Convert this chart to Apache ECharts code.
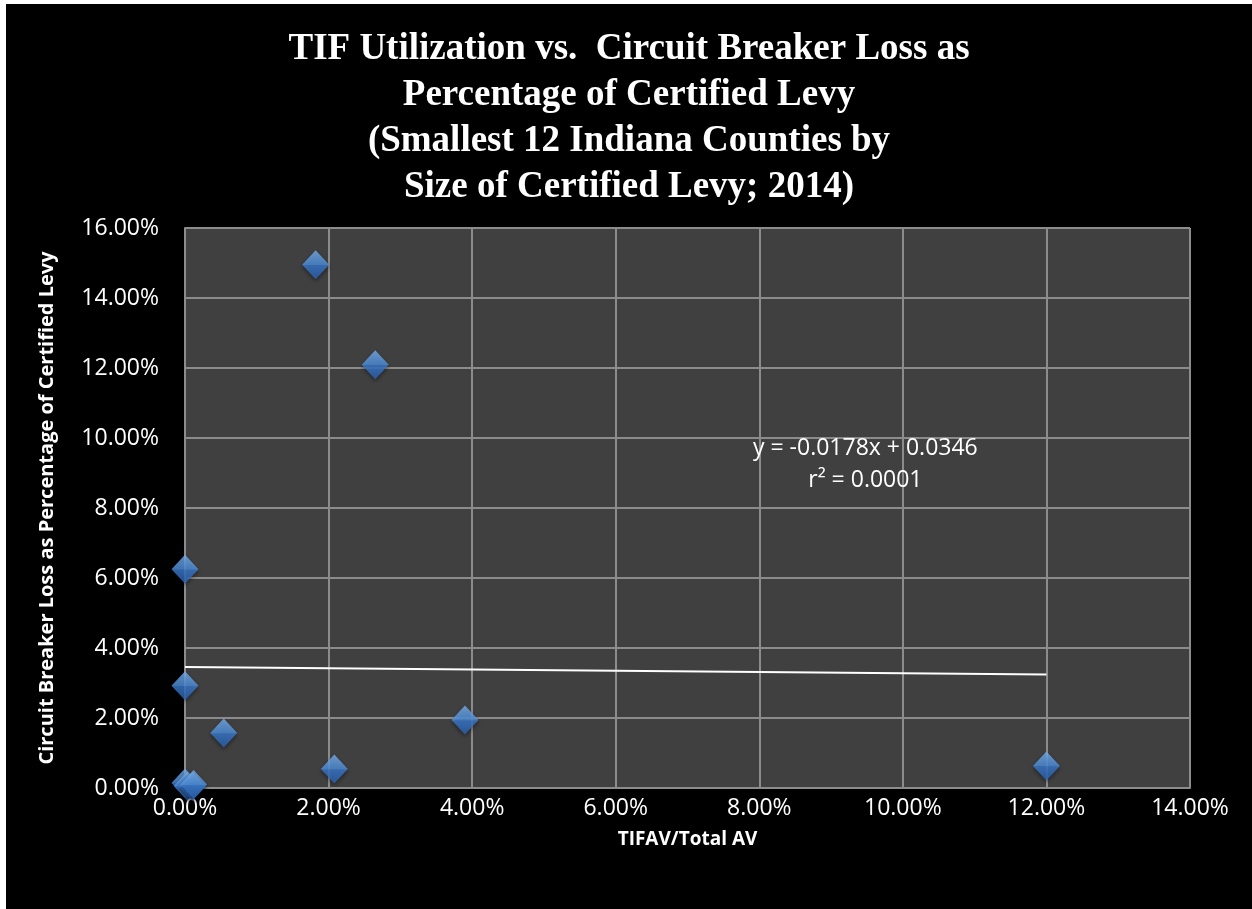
<!DOCTYPE html>
<html>
<head>
<meta charset="utf-8">
<script src="https://cdn.jsdelivr.net/npm/echarts@6/dist/echarts.min.js"></script>
<style>
  html, body { margin: 0; padding: 0; background: #ffffff; }
  #chart { position: absolute; left: 6px; top: 4px; width: 1246px; height: 905px; background: #000000; }
</style>
</head>
<body>
<div id="chart"></div>
<script>
// TIF share of assessed value vs. circuit breaker loss, smallest 12 Indiana counties (2014)
const titleLines = [
  'TIF Utilization vs.  Circuit Breaker Loss as',
  'Percentage of Certified Levy',
  '(Smallest 12 Indiana Counties by',
  'Size of Certified Levy; 2014)'
];
const xAxisName = 'TIFAV/Total AV';
const yAxisName = 'Circuit Breaker Loss as Percentage of Certified Levy';

// TIFAV / Total AV (fraction)
const tifShare = [0.0182, 0.0265, 0.0000, 0.0000, 0.0054, 0.0208, 0.0390, 0.1200, 0.0000, 0.0003, 0.0010, 0.0012];
// Circuit breaker loss / certified levy (fraction)
const cbLoss   = [0.1495, 0.1209, 0.0625, 0.0292, 0.0157, 0.0054, 0.0194, 0.0063, 0.0014, 0.0006, 0.0004, 0.0010];

// Linear trendline
const trendSlope = -0.0178;
const trendIntercept = 0.0346;
const trendR2 = '0.0001';
const trendXRange = [0, 0.12];

// Axis ranges
const xMin = 0, xMax = 0.14, xStep = 0.02;
const yMin = 0, yMax = 0.16, yStep = 0.02;

const points = tifShare.map((x, i) => [x, cbLoss[i]]);
const trendPoints = trendXRange.map(x => [x, trendSlope * x + trendIntercept]);
const pct = v => (v * 100).toFixed(2) + '%';

const sans = 'Open Sans, sans-serif';

const chart = echarts.init(document.getElementById('chart'));
chart.setOption({
  backgroundColor: '#000000',
  animation: false,
  title: {
    text: titleLines.join('\n'),
    left: 'center',
    top: 17,
    textStyle: {
      color: '#ffffff',
      fontFamily: 'Liberation Serif, DejaVu Serif, serif',
      fontWeight: 'bold',
      fontSize: 37,
      lineHeight: 46
    }
  },
  grid: {
    left: 179, top: 224, right: 62, bottom: 121,
    show: true,
    backgroundColor: '#404040',
    borderWidth: 0
  },
  xAxis: {
    type: 'value',
    min: xMin, max: xMax, interval: xStep,
    name: xAxisName,
    nameLocation: 'middle',
    nameGap: 42,
    nameTextStyle: { color: '#ffffff', fontFamily: sans, fontWeight: 'bold', fontSize: 19 },
    axisLine: { show: true, lineStyle: { color: '#8c8c8c', width: 2 } },
    axisTick: { show: false },
    axisLabel: { color: '#ffffff', fontFamily: sans, fontSize: 23, margin: 9, formatter: pct },
    splitLine: { show: true, lineStyle: { color: '#8c8c8c', width: 2 } }
  },
  yAxis: {
    type: 'value',
    min: yMin, max: yMax, interval: yStep,
    name: yAxisName,
    nameLocation: 'middle',
    nameGap: 128,
    nameTextStyle: { color: '#ffffff', fontFamily: sans, fontWeight: 'bold', fontSize: 20 },
    axisLine: { show: true, lineStyle: { color: '#8c8c8c', width: 2 } },
    axisTick: { show: false },
    axisLabel: { color: '#ffffff', fontFamily: sans, fontSize: 23, margin: 26, formatter: pct },
    splitLine: { show: true, lineStyle: { color: '#8c8c8c', width: 2 } }
  },
  graphic: [{
    type: 'text',
    left: 747, top: 428,
    style: {
      text: 'y = ' + trendSlope.toFixed(4) + 'x + ' + trendIntercept.toFixed(4) + '\n' + 'r² = ' + trendR2,
      fill: '#ffffff',
      font: '23px Open Sans, sans-serif',
      textAlign: 'center',
      lineHeight: 32
    },
    z: 100
  }],
  series: [
    {
      type: 'line',
      data: trendPoints,
      symbol: 'none',
      silent: true,
      lineStyle: { color: '#ffffff', width: 2 },
      z: 3
    },
    {
      type: 'scatter',
      data: points,
      clip: false,
      symbol: 'diamond',
      symbolSize: [27, 29],
      itemStyle: {
        color: new echarts.graphic.LinearGradient(0, 0, 0, 1, [
          { offset: 0, color: '#79b0ee' },
          { offset: 0.5, color: '#4f91de' },
          { offset: 0.52, color: '#3b7bcf' },
          { offset: 1, color: '#2a62b2' }
        ]),
        shadowColor: 'rgba(0,0,0,0.55)',
        shadowBlur: 4,
        shadowOffsetY: 2
      },
      z: 4
    }
  ]
});
</script>
</body>
</html>
